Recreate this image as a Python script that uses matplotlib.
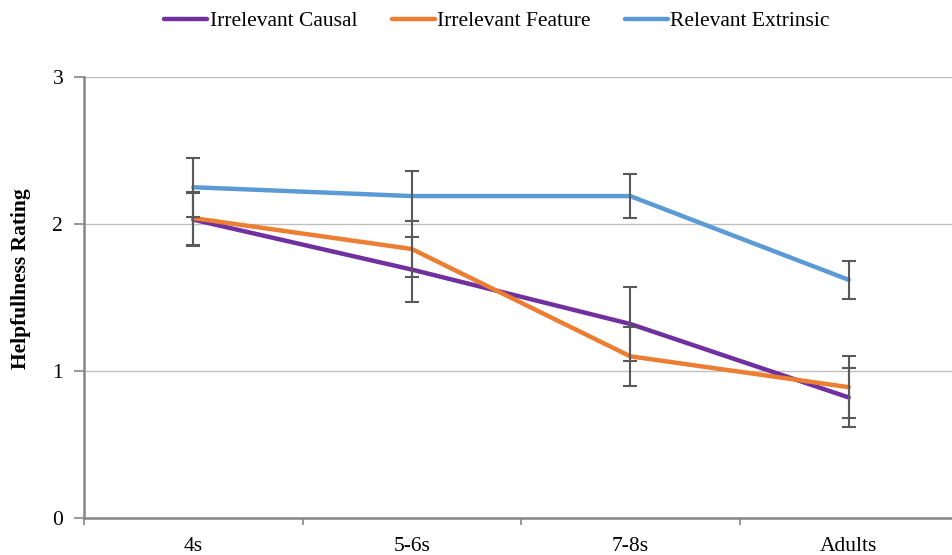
import matplotlib.pyplot as plt
import numpy as np

plt.rcParams['font.family'] = ['Liberation Serif', 'DejaVu Serif']

groups = ['4s', '5-6s', '7-8s', 'Adults']
series = ['Irrelevant Causal', 'Irrelevant Feature', 'Relevant Extrinsic']
causal = [2.03, 1.69, 1.32, 0.82]
causal_err = [0.18, 0.22, 0.25, 0.20]
feature = [2.04, 1.83, 1.10, 0.89]
feature_err = [0.18, 0.19, 0.20, 0.21]
extrinsic = [2.25, 2.19, 2.19, 1.62]
extrinsic_err = [0.20, 0.17, 0.15, 0.13]

colors = ['#7030A0', '#ED7D31', '#5B9BD5']

fig = plt.figure(figsize=(9.52, 5.55), dpi=100)
ax = fig.add_axes([84 / 952, 37 / 555, 874 / 952, 441 / 555])

x = np.arange(len(groups))
for vals, errs, col, name in zip([causal, feature, extrinsic],
                                 [causal_err, feature_err, extrinsic_err],
                                 colors, series):
    ax.plot(x, vals, color=col, lw=3.2, label=name, zorder=3,
            solid_capstyle='round')
    ax.errorbar(x, vals, yerr=errs, fmt='none', ecolor='#595959',
                elinewidth=1.5, capsize=5, capthick=1.5, zorder=4)

ax.set_xlim(-0.5, 3.5)
ax.set_ylim(0, 3)
ax.set_yticks([0, 1, 2, 3])
ax.set_xticks(x)
ax.set_xticklabels(groups)
ax.set_xticks(np.arange(-0.5, 3.6, 1), minor=True)
ax.tick_params(axis='x', which='major', length=0, labelsize=15.5, pad=14)
ax.tick_params(axis='x', which='minor', length=5, width=1.2, color='#868686')
ax.tick_params(axis='y', length=7, width=1.2, color='#868686', labelsize=15.5, pad=8)
ax.grid(axis='y', color='#BFBFBF', lw=1)
ax.set_axisbelow(True)

for s in ['top', 'right']:
    ax.spines[s].set_visible(False)
for s in ['left', 'bottom']:
    ax.spines[s].set_color('#868686')
    ax.spines[s].set_linewidth(1.8)

ax.set_ylabel('Helpfullness Rating', fontsize=15.5, fontweight='bold')
ax.yaxis.set_label_coords(-0.061, 0.542)

fig.legend(loc='upper center', bbox_to_anchor=(0.522, 1.015), ncol=3, frameon=False,
           fontsize=15.5, handlelength=2.0, handletextpad=0.1, columnspacing=1.6)

fig.savefig('out.png', dpi=100)
